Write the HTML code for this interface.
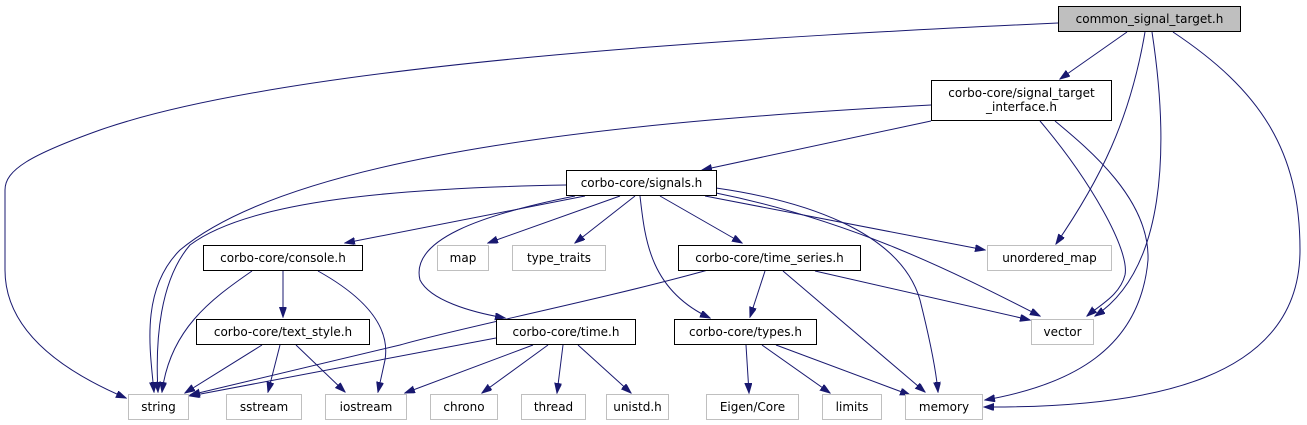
<!DOCTYPE html>
<html><head><meta charset="utf-8"><style>
html,body{margin:0;padding:0;background:#fff;}
svg{display:block;}
text{font-family:"DejaVu Sans","Liberation Sans",sans-serif;font-size:12px;fill:#000;}
</style></head><body>
<svg width="1307" height="425" viewBox="0 0 1307 425" xmlns="http://www.w3.org/2000/svg">
<defs>
<marker id="a" markerUnits="userSpaceOnUse" markerWidth="11" markerHeight="8" refX="10" refY="3.5" orient="auto">
<path d="M0,0 L10,3.5 L0,7 z" fill="#191970" stroke="#191970"/>
</marker>
</defs>
<g fill="none" stroke="#191970" stroke-width="1" marker-end="url(#a)">
<path d="M1058,23 C800,35 300,60 100,130 C30,155 5,170 5,190 L5,270 C5,330 60,370 126,398"/>
<path d="M1127,32 L1060,79"/>
<path d="M1145,32 C1130,120 1100,180 1056,244"/>
<path d="M1152,32 C1170,150 1165,270 1095,316"/>
<path d="M1173,32 C1260,90 1300,150 1300,250 C1300,380 1150,408 984,407"/>
<path d="M931,105 C650,120 300,150 180,250 C140,290 150,350 154,392"/>
<path d="M931,121 L702,170"/>
<path d="M1040,121 C1090,180 1130,250 1125,275 C1120,295 1100,305 1087,316"/>
<path d="M1055,121 C1090,150 1150,200 1148,260 C1140,350 1070,385 985,400"/>
<path d="M566,185 C400,188 250,200 190,245 C160,280 155,340 158,392"/>
<path d="M585,196 L345,243"/>
<path d="M620,196 L488,243"/>
<path d="M635,196 L575,243"/>
<path d="M575,196 C480,215 410,240 420,280 C430,300 470,312 505,318"/>
<path d="M640,196 C645,240 650,290 710,318"/>
<path d="M660,196 L742,243"/>
<path d="M716,188 C800,200 900,230 920,300 C930,340 936,370 938,392"/>
<path d="M705,196 L985,250"/>
<path d="M716,193 C850,220 950,270 1040,316"/>
<path d="M252,271 C210,300 170,330 162,392"/>
<path d="M283,271 L283,317"/>
<path d="M318,271 C370,300 390,330 385,360 L378,392"/>
<path d="M262,345 L185,393"/>
<path d="M280,345 L268,392"/>
<path d="M296,345 L345,392"/>
<path d="M496,338 L190,396"/>
<path d="M533,345 L405,393"/>
<path d="M548,345 L482,393"/>
<path d="M563,345 L557,393"/>
<path d="M578,345 L631,393"/>
<path d="M708,270 C600,300 450,330 400,345 L190,395"/>
<path d="M765,271 L750,317"/>
<path d="M783,271 L925,392"/>
<path d="M815,271 L1030,320"/>
<path d="M746,345 L749,393"/>
<path d="M762,345 L830,393"/>
<path d="M776,345 L910,395"/>
</g>
<g stroke-width="1">
<rect x="1058.5" y="6.5" width="182" height="25" fill="#bfbfbf" stroke="#000"/>
<text x="1149.5" y="23" text-anchor="middle">common_signal_target.h</text>
<rect x="931.5" y="80.5" width="180" height="40" fill="#fff" stroke="#000"/>
<text x="1021.5" y="97" text-anchor="middle">corbo-core/signal_target</text>
<text x="1021.5" y="111" text-anchor="middle">_interface.h</text>
<rect x="566.5" y="170.5" width="150" height="25" fill="#fff" stroke="#000"/>
<text x="641.5" y="187" text-anchor="middle">corbo-core/signals.h</text>
<rect x="203.5" y="245.5" width="159" height="25" fill="#fff" stroke="#000"/>
<text x="283" y="262" text-anchor="middle">corbo-core/console.h</text>
<rect x="437.5" y="245.5" width="51" height="25" fill="#fff" stroke="#bfbfbf"/>
<text x="463" y="262" text-anchor="middle" fill="#000">map</text>
<rect x="512.5" y="245.5" width="93" height="25" fill="#fff" stroke="#bfbfbf"/>
<text x="559" y="262" text-anchor="middle">type_traits</text>
<rect x="678.5" y="245.5" width="182" height="25" fill="#fff" stroke="#000"/>
<text x="769.5" y="262" text-anchor="middle">corbo-core/time_series.h</text>
<rect x="987.5" y="245.5" width="124" height="25" fill="#fff" stroke="#bfbfbf"/>
<text x="1049.5" y="262" text-anchor="middle">unordered_map</text>
<rect x="196.5" y="319.5" width="173" height="25" fill="#fff" stroke="#000"/>
<text x="283" y="336" text-anchor="middle">corbo-core/text_style.h</text>
<rect x="496.5" y="319.5" width="139" height="25" fill="#fff" stroke="#000"/>
<text x="566" y="336" text-anchor="middle">corbo-core/time.h</text>
<rect x="674.5" y="319.5" width="142" height="25" fill="#fff" stroke="#000"/>
<text x="745.5" y="336" text-anchor="middle">corbo-core/types.h</text>
<rect x="1031.5" y="319.5" width="62" height="25" fill="#fff" stroke="#bfbfbf"/>
<text x="1062.5" y="336" text-anchor="middle">vector</text>
<rect x="128.5" y="394.5" width="60" height="25" fill="#fff" stroke="#bfbfbf"/>
<text x="158.5" y="411" text-anchor="middle">string</text>
<rect x="226.5" y="394.5" width="75" height="25" fill="#fff" stroke="#bfbfbf"/>
<text x="264" y="411" text-anchor="middle">sstream</text>
<rect x="325.5" y="394.5" width="81" height="25" fill="#fff" stroke="#bfbfbf"/>
<text x="366" y="411" text-anchor="middle">iostream</text>
<rect x="430.5" y="394.5" width="67" height="25" fill="#fff" stroke="#bfbfbf"/>
<text x="464" y="411" text-anchor="middle">chrono</text>
<rect x="521.5" y="394.5" width="64" height="25" fill="#fff" stroke="#bfbfbf"/>
<text x="553.5" y="411" text-anchor="middle">thread</text>
<rect x="606.5" y="394.5" width="62" height="25" fill="#fff" stroke="#bfbfbf"/>
<text x="637.5" y="411" text-anchor="middle">unistd.h</text>
<rect x="706.5" y="394.5" width="92" height="25" fill="#fff" stroke="#bfbfbf"/>
<text x="752.5" y="411" text-anchor="middle">Eigen/Core</text>
<rect x="822.5" y="394.5" width="59" height="25" fill="#fff" stroke="#bfbfbf"/>
<text x="852" y="411" text-anchor="middle">limits</text>
<rect x="905.5" y="394.5" width="77" height="25" fill="#fff" stroke="#bfbfbf"/>
<text x="944" y="411" text-anchor="middle">memory</text>
</g>
</svg>
</body></html>
